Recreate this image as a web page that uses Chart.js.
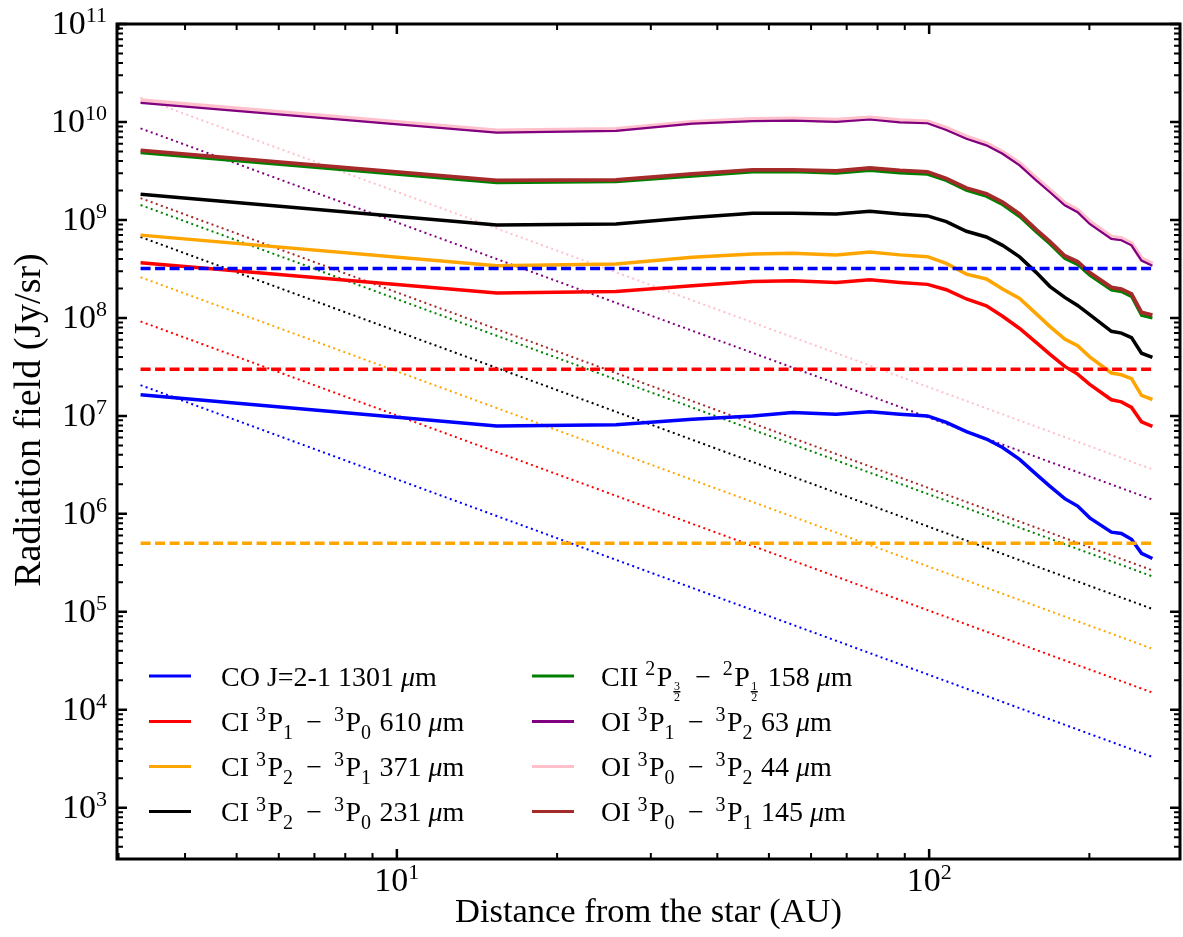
<!DOCTYPE html>
<html>
<head>
<meta charset="utf-8">
<script src="https://cdn.jsdelivr.net/npm/chart.js@4.4.0/dist/chart.umd.min.js"></script>
<style>
  html, body { margin: 0; padding: 0; background: #fff; }
  #wrap { width: 1183px; height: 937px; }
</style>
</head>
<body>
<div id="wrap"><canvas id="fieldChart" width="1183" height="937"></canvas></div>
<script>
// radial grid of the model (AU)
var distance = [3.3, 15.4, 25.8, 35.9, 46.6, 55.4, 66.9, 77.4, 88.1, 99.3, 107.7, 117.5, 128.1,
                137.4, 147.9, 159, 168.5, 179.8, 190.1, 200.3, 220, 229.7, 240, 250.6, 262.7];

// radiation field (Jy/sr), solid curves
var coField   = [1.64e7, 7.9e6, 8.1e6, 9.25e6, 1.0e7, 1.08e7, 1.04e7, 1.1e7, 1.04e7, 1.0e7, 8.6e6, 6.9e6, 5.8e6,
                 4.75e6, 3.6e6, 2.53e6, 1.92e6, 1.43e6, 1.2e6, 9.1e5, 6.5e5, 6.3e5, 5.5e5, 3.95e5, 3.5e5];
var ci610     = [3.66e8, 1.8e8, 1.86e8, 2.13e8, 2.36e8, 2.4e8, 2.3e8, 2.45e8, 2.3e8, 2.2e8, 1.94e8, 1.56e8, 1.33e8,
                 1.04e8, 7.8e7, 5.6e7, 4.27e7, 3.2e7, 2.67e7, 2.1e7, 1.46e7, 1.39e7, 1.22e7, 8.7e6, 7.8e6];
var ci371     = [7.0e8, 3.41e8, 3.55e8, 4.16e8, 4.5e8, 4.57e8, 4.4e8, 4.7e8, 4.4e8, 4.22e8, 3.6e8, 2.8e8, 2.5e8,
                 1.97e8, 1.58e8, 1.1e8, 8.2e7, 6.07e7, 5.2e7, 4.0e7, 2.74e7, 2.63e7, 2.4e7, 1.62e7, 1.47e7];
var ci231     = [1.83e9, 8.9e8, 9.1e8, 1.06e9, 1.17e9, 1.17e9, 1.15e9, 1.23e9, 1.15e9, 1.1e9, 9.6e8, 7.66e8, 6.7e8,
                 5.5e8, 4.2e8, 2.9e8, 2.1e8, 1.62e8, 1.34e8, 1.08e8, 7.3e7, 7.0e7, 6.3e7, 4.36e7, 3.96e7];
var cii158    = [4.85e9, 2.4e9, 2.45e9, 2.8e9, 3.08e9, 3.1e9, 3.0e9, 3.2e9, 3.02e9, 2.92e9, 2.52e9, 2.0e9, 1.74e9,
                 1.43e9, 1.08e9, 7.5e8, 5.7e8, 4.05e8, 3.5e8, 2.72e8, 1.92e8, 1.85e8, 1.65e8, 1.06e8, 1.0e8];
var oi63      = [1.57e10, 7.8e9, 8.1e9, 9.6e9, 1.02e10, 1.03e10, 1.0e10, 1.06e10, 9.9e9, 9.7e9, 8.3e9, 6.75e9, 5.77e9,
                 4.74e9, 3.6e9, 2.53e9, 1.93e9, 1.41e9, 1.2e9, 9.1e8, 6.4e8, 6.2e8, 5.5e8, 3.85e8, 3.4e8];
var oi44      = [1.65e10, 8.1e9, 8.4e9, 9.9e9, 1.06e10, 1.07e10, 1.04e10, 1.1e10, 1.03e10, 1.0e10, 8.6e9, 7.0e9, 6.0e9,
                 4.9e9, 3.75e9, 2.63e9, 2.0e9, 1.47e9, 1.25e9, 9.5e8, 6.65e8, 6.45e8, 5.7e8, 4.0e8, 3.55e8];
var oi145     = [5.13e9, 2.53e9, 2.57e9, 2.96e9, 3.25e9, 3.25e9, 3.16e9, 3.39e9, 3.2e9, 3.1e9, 2.65e9, 2.12e9, 1.85e9,
                 1.52e9, 1.15e9, 7.95e8, 6.05e8, 4.3e8, 3.75e8, 2.9e8, 2.05e8, 1.97e8, 1.76e8, 1.14e8, 1.07e8];

// dotted stellar-dilution lines, values at the two ends
var dilutionX  = [3.3, 262.7];
var coDil      = [2.06e7, 3.3e3];
var ci610Dil   = [9.2e7, 1.5e4];
var ci371Dil   = [2.6e8, 4.2e4];
var ci231Dil   = [6.7e8, 1.07e5];
var cii158Dil  = [1.42e9, 2.3e5];
var oi145Dil   = [1.67e9, 2.65e5];
var oi63Dil    = [8.6e9, 1.4e6];
var oi44Dil    = [1.77e10, 2.85e6];

// dashed horizontal levels
var levelX   = [3.3, 262.7];
var coLevel  = [3.2e8, 3.2e8];
var ci610Lvl = [3.0e7, 3.0e7];
var ci371Lvl = [5.0e5, 5.0e5];

var lineNames = [
  "CO J=2-1 1301 μm",
  "CI ^{3}P_{1} − ^{3}P_{0} 610 μm",
  "CI ^{3}P_{2} − ^{3}P_{1} 371 μm",
  "CI ^{3}P_{2} − ^{3}P_{0} 231 μm",
  "CII ^{2}P_{3/2} − ^{2}P_{1/2} 158 μm",
  "OI ^{3}P_{1} − ^{3}P_{2} 63 μm",
  "OI ^{3}P_{0} − ^{3}P_{2} 44 μm",
  "OI ^{3}P_{0} − ^{3}P_{1} 145 μm"
];
var lineColors = ["#0000ff", "#ff0000", "#ffa500", "#000000", "#008000", "#800080", "#ffc0cb", "#a52a2a"];

var SERIF = '"Liberation Serif", "Times New Roman", serif';

function pts(xs, ys) {
  return xs.map(function(x, i) { return { x: x, y: ys[i] }; });
}

var solidSets = [coField, ci610, ci371, ci231, cii158, oi63, oi44, oi145];
var dilSets = [coDil, ci610Dil, ci371Dil, ci231Dil, cii158Dil, oi63Dil, oi44Dil, oi145Dil];
var solidWidth = [3.5, 3.5, 3.5, 3.5, 3, 2.2, 5, 3.8];
var solidOrder = [20, 20, 20, 20, 22, 18, 23, 21];

var datasets = [];
for (var i = 0; i < lineNames.length; i++) {
  datasets.push({
    label: lineNames[i],
    data: pts(distance, solidSets[i]),
    borderColor: lineColors[i],
    borderWidth: solidWidth[i],
    order: solidOrder[i]
  });
}
for (var j = 0; j < lineNames.length; j++) {
  datasets.push({
    label: "dilution " + j,
    data: pts(dilutionX, dilSets[j]),
    borderColor: lineColors[j],
    borderWidth: 2,
    borderDash: [2, 3.4],
    order: 30
  });
}
[[coLevel, 0], [ci610Lvl, 1], [ci371Lvl, 2]].forEach(function(l) {
  datasets.push({
    label: "level " + l[1],
    data: pts(levelX, l[0]),
    borderColor: lineColors[l[1]],
    borderWidth: 3.5,
    borderDash: [10, 4.5],
    order: 5
  });
});

// rich text: ^{..} superscript, _{..} subscript, _{a/b} small fraction, μ italic, − spaced
function parseRich(s) {
  var out = [], buf = "", i = 0;
  function flush() { if (buf) { out.push({ kind: "n", text: buf }); buf = ""; } }
  while (i < s.length) {
    var c = s[i];
    if ((c === "^" || c === "_") && s[i + 1] === "{") {
      flush();
      var end = s.indexOf("}", i);
      var t = s.slice(i + 2, end);
      out.push({ kind: c === "^" ? "sup" : (t.indexOf("/") >= 0 ? "frac" : "sub"), text: t });
      i = end + 1;
    } else if (c === "μ") {
      flush(); out.push({ kind: "it", text: c }); i++;
    } else if (c === "−") {
      flush(); out.push({ kind: "op", text: c }); i++;
      if (s[i] === " ") i++;
      if (buf === "" && out.length > 1 && out[out.length - 2].kind === "n") {
        out[out.length - 2].text = out[out.length - 2].text.replace(/ $/, "");
      }
    } else { buf += c; i++; }
  }
  flush();
  return out;
}

function drawRich(ctx, s, x, y, size) {
  var small = Math.round(size * 0.7);
  var parts = parseRich(s);
  for (var k = 0; k < parts.length; k++) {
    var p = parts[k];
    if (p.kind === "n") {
      ctx.font = size + "px " + SERIF;
      ctx.fillText(p.text, x, y); x += ctx.measureText(p.text).width;
    } else if (p.kind === "it") {
      ctx.font = "italic " + size + "px " + SERIF;
      ctx.fillText(p.text, x, y); x += ctx.measureText(p.text).width;
    } else if (p.kind === "op") {
      ctx.font = size + "px " + SERIF;
      x += size * 0.42;
      ctx.fillText(p.text, x, y); x += ctx.measureText(p.text).width + size * 0.42;
    } else if (p.kind === "sup") {
      ctx.font = small + "px " + SERIF;
      ctx.fillText(p.text, x, y - size * 0.36); x += ctx.measureText(p.text).width + 1.5;
    } else if (p.kind === "sub") {
      ctx.font = small + "px " + SERIF;
      ctx.fillText(p.text, x, y + size * 0.27); x += ctx.measureText(p.text).width + 1.5;
    } else {
      var nd = p.text.split("/");
      ctx.font = "12px " + SERIF;
      var w = Math.max(ctx.measureText(nd[0]).width, ctx.measureText(nd[1]).width) + 3;
      ctx.textAlign = "center";
      ctx.fillText(nd[0], x + w / 2, y + 4);
      ctx.fillText(nd[1], x + w / 2, y + 15);
      ctx.textAlign = "left";
      ctx.fillRect(x + 1, y + 5.5, w - 2, 1.5);
      x += w + 2;
    }
  }
}

function drawPower(ctx, exp, x, y, align) {
  var base = "10", e = String(exp);
  ctx.font = "34px " + SERIF;
  var wb = ctx.measureText(base).width;
  ctx.font = "22px " + SERIF;
  var we = ctx.measureText(e).width;
  var left = align === "right" ? x - wb - we : x - (wb + we) / 2;
  ctx.textAlign = "left";
  ctx.font = "34px " + SERIF;
  ctx.fillText(base, left, y);
  ctx.font = "22px " + SERIF;
  ctx.fillText(e, left + wb, y - 12);
}

var framePlugin = {
  id: "frame",
  afterDatasetsDraw: function(chart) {
    var ctx = chart.ctx, a = chart.chartArea;
    var xs = chart.scales.x, ys = chart.scales.y;
    ctx.save();
    ctx.strokeStyle = "#000";
    ctx.fillStyle = "#000";

    // x ticks, top and bottom, pointing inward
    for (var k = 0; k <= 2; k++) {
      for (var m = 1; m <= 9; m++) {
        var v = m * Math.pow(10, k);
        if (v < xs.min || v > xs.max) continue;
        var px = xs.getPixelForValue(v);
        var len = m === 1 ? 10 : 6;
        ctx.lineWidth = m === 1 ? 2.5 : 2;
        ctx.beginPath();
        ctx.moveTo(px, a.bottom); ctx.lineTo(px, a.bottom - len);
        ctx.moveTo(px, a.top); ctx.lineTo(px, a.top + len);
        ctx.stroke();
      }
    }
    // y ticks, left and right
    for (var d = 2; d <= 11; d++) {
      for (var n = 1; n <= 9; n++) {
        var vy = n * Math.pow(10, d);
        if (vy < ys.min || vy > ys.max) continue;
        var py = ys.getPixelForValue(vy);
        var ln = n === 1 ? 10 : 6;
        ctx.lineWidth = n === 1 ? 2.5 : 2;
        ctx.beginPath();
        ctx.moveTo(a.left, py); ctx.lineTo(a.left + ln, py);
        ctx.moveTo(a.right, py); ctx.lineTo(a.right - ln, py);
        ctx.stroke();
      }
    }

    ctx.lineWidth = 3;
    ctx.strokeRect(a.left, a.top, a.right - a.left, a.bottom - a.top);

    // tick labels
    for (var e = 3; e <= 11; e++) {
      drawPower(ctx, e, a.left - 10, ys.getPixelForValue(Math.pow(10, e)) + 10, "right");
    }
    [1, 2].forEach(function(e) {
      drawPower(ctx, e, xs.getPixelForValue(Math.pow(10, e)), a.bottom + 32, "center");
    });

    // axis titles
    ctx.font = "34.5px " + SERIF;
    ctx.textAlign = "center";
    ctx.fillText("Distance from the star (AU)", (a.left + a.right) / 2, 922);
    ctx.save();
    ctx.font = "38px " + SERIF;
    ctx.translate(40, 420);
    ctx.rotate(-Math.PI / 2);
    ctx.fillText("Radiation field (Jy/sr)", 0, 0);
    ctx.restore();

    // legend, two columns of four
    ctx.textAlign = "left";
    var rows = [676, 721.5, 766.5, 811.5];
    var cols = [{ l0: 149, l1: 191, t: 221 }, { l0: 532, l1: 574, t: 601 }];
    for (var s = 0; s < 8; s++) {
      var col = cols[Math.floor(s / 4)], ry = rows[s % 4];
      var ds = chart.data.datasets[s];
      ctx.strokeStyle = ds.borderColor;
      ctx.lineWidth = 3;
      ctx.setLineDash([]);
      ctx.beginPath(); ctx.moveTo(col.l0, ry); ctx.lineTo(col.l1, ry); ctx.stroke();
      ctx.fillStyle = "#000";
      drawRich(ctx, ds.label, col.t, ry + 9.5, 28);
    }
    ctx.restore();
  }
};

new Chart(document.getElementById("fieldChart"), {
  type: "line",
  data: { datasets: datasets },
  options: {
    responsive: false,
    animation: false,
    layout: { padding: { left: 117, top: 24, right: 3, bottom: 78 } },
    plugins: { legend: { display: false }, tooltip: { enabled: false } },
    elements: { point: { radius: 0 }, line: { tension: 0, borderCapStyle: "butt" } },
    scales: {
      x: { type: "logarithmic", min: 2.98, max: 296, display: false },
      y: { type: "logarithmic", min: 300, max: 1e11, display: false }
    }
  },
  plugins: [framePlugin]
});
</script>
</body>
</html>
